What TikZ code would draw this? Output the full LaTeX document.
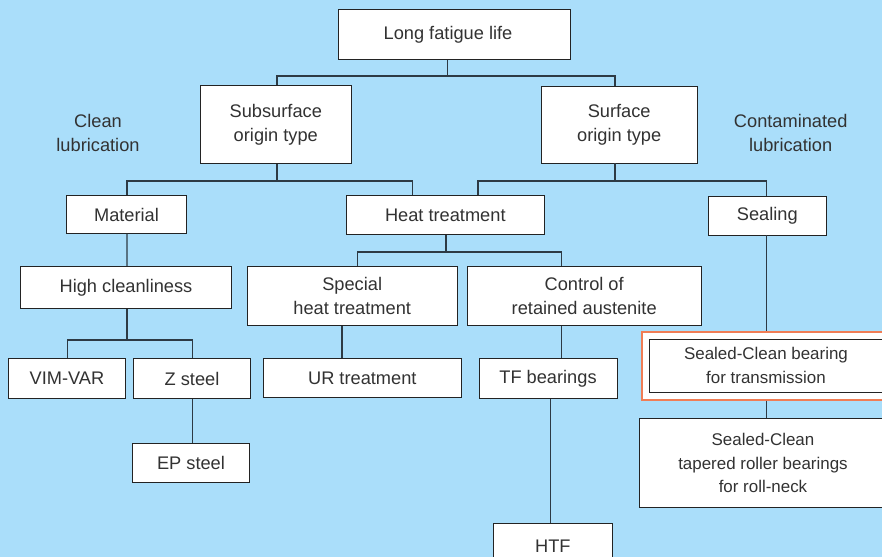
\documentclass[tikz,border=0pt]{standalone}
\usepackage{fontspec}
\setmainfont{Liberation Sans}
\definecolor{bgc}{RGB}{170,222,250}
\definecolor{boxc}{RGB}{35,35,35}
\definecolor{linec}{RGB}{45,58,68}
\definecolor{txtc}{RGB}{50,50,50}
\definecolor{orc}{RGB}{240,125,85}
\begin{document}
\begin{tikzpicture}[x=1bp,y=-1bp,
  box/.style={draw=boxc, fill=white, line width=0.9bp, align=center, inner sep=0pt,
    text=txtc, font=\fontsize{18.3}{24}\selectfont},
  sbox/.style={box, font=\fontsize{17}{24}\selectfont},
  lbl/.style={align=center, text=txtc, font=\fontsize{18.3}{24}\selectfont},
  conn/.style={draw=linec, line width=1.2bp}]
\fill[bgc] (0,0) rectangle (882,557);
\useasboundingbox (0,0) rectangle (882,557);

% nodes
\node[box, minimum width=232.4bp, minimum height=49.6bp] (root) at (454.5,34.5) {Long fatigue life\hspace*{13bp}};
\node[box, minimum width=150.3bp, minimum height=77.6bp] (sub) at (275.8,124.5) {Subsurface\\origin type};
\node[box, minimum width=155.7bp, minimum height=77bp] (surf) at (619.2,124.5) {Surface\\origin type};
\node[lbl] (clean) at (98,133) {Clean\\lubrication};
\node[lbl] (cont) at (790.7,133) {Contaminated\\lubrication};

\node[box, minimum width=120.4bp, minimum height=37.6bp] (mat) at (126.5,214.5) {Material};
\node[box, minimum width=198bp, minimum height=39bp] (heat) at (445.3,215.2) {Heat treatment};
\node[box, minimum width=118bp, minimum height=39bp] (seal) at (767.3,215.5) {Sealing};

\node[box, minimum width=211.4bp, minimum height=42bp] (high) at (126,287.7) {High cleanliness};
\node[box, minimum width=209.7bp, minimum height=59bp] (spec) at (352.2,295.8) {Special\\heat treatment};
\node[box, minimum width=234.3bp, minimum height=59.3bp] (ctrl) at (584.2,295.7) {Control of\\retained austenite};

\node[box, minimum width=117.4bp, minimum height=39.6bp] (vim) at (67,378.5) {VIM-VAR};
\node[box, minimum width=116.6bp, minimum height=39.6bp] (z) at (192,378.5) {Z steel};
\node[box, minimum width=198bp, minimum height=39.4bp] (ur) at (362.3,378.2) {UR treatment};
\node[box, minimum width=138bp, minimum height=39.3bp] (tf) at (548,378.4) {TF bearings};
\node[box, minimum width=116.6bp, minimum height=39bp] (ep) at (191,462.8) {EP steel};
\node[box, minimum width=118.3bp, minimum height=45bp] (htf) at (552.8,546) {HTF};

\node[draw=orc, fill=white, line width=1.3bp, minimum width=248bp, minimum height=68bp, inner sep=0pt] (transo) at (766,366) {};
\node[sbox, minimum width=234bp, minimum height=53.7bp] (trans) at (766,365.9) {Sealed-Clean bearing\\for transmission};
\node[sbox, minimum width=247.4bp, minimum height=88.6bp] (roll) at (763,463) {Sealed-Clean\\tapered roller bearings\\for roll-neck};

% bus coordinates
\coordinate (b1) at (447.3,76);
\coordinate (b2) at (277,181);
\coordinate (b3) at (615,181);
\coordinate (b5) at (446,252);
\coordinate (b6) at (127,340);

% connectors
\draw[conn] (root.south -| b1) -- (b1);
\draw[conn] ([xshift=1.2bp]sub.north) |- (b1) -| ([xshift=-4.2bp]surf.north);

\draw[conn] (sub.south -| b2) -- (b2);
\draw[conn] ([xshift=0.5bp]mat.north) |- (b2) -| ([xshift=-32.6bp]heat.north);

\draw[conn] (surf.south -| b3) -- (b3);
\draw[conn] ([xshift=32.7bp]heat.north) |- (b3) -| ([xshift=-0.6bp]seal.north);

\draw[conn] ([xshift=0.5bp]mat.south) -- ([xshift=1bp]high.north);

\draw[conn] (heat.south -| b5) -- (b5);
\draw[conn] ([xshift=5.5bp]spec.north) |- (b5) -| ([xshift=-22.5bp]ctrl.north);

\draw[conn] ([xshift=1bp]high.south) -- (b6);
\draw[conn] ([xshift=0.3bp]vim.north) |- (b6) -| ([xshift=0.7bp]z.north);

\draw[conn] ([xshift=-10.2bp]spec.south) -- ([xshift=-10.2bp]spec.south |- ur.north);
\draw[conn] ([xshift=-22.5bp]ctrl.south) -- ([xshift=-22.5bp]ctrl.south |- tf.north);
\draw[conn] ([xshift=0.7bp]z.south) -- ([xshift=0.7bp]z.south |- ep.north);
\draw[conn] ([xshift=2.7bp]tf.south) -- ([xshift=2.7bp]tf.south |- htf.north);

\draw[conn] ([xshift=-0.6bp]seal.south) -- ([xshift=-0.6bp]seal.south |- transo.north);
\draw[conn] ([xshift=0.7bp]transo.south) -- ([xshift=0.7bp]transo.south |- roll.north);
\end{tikzpicture}
\end{document}
